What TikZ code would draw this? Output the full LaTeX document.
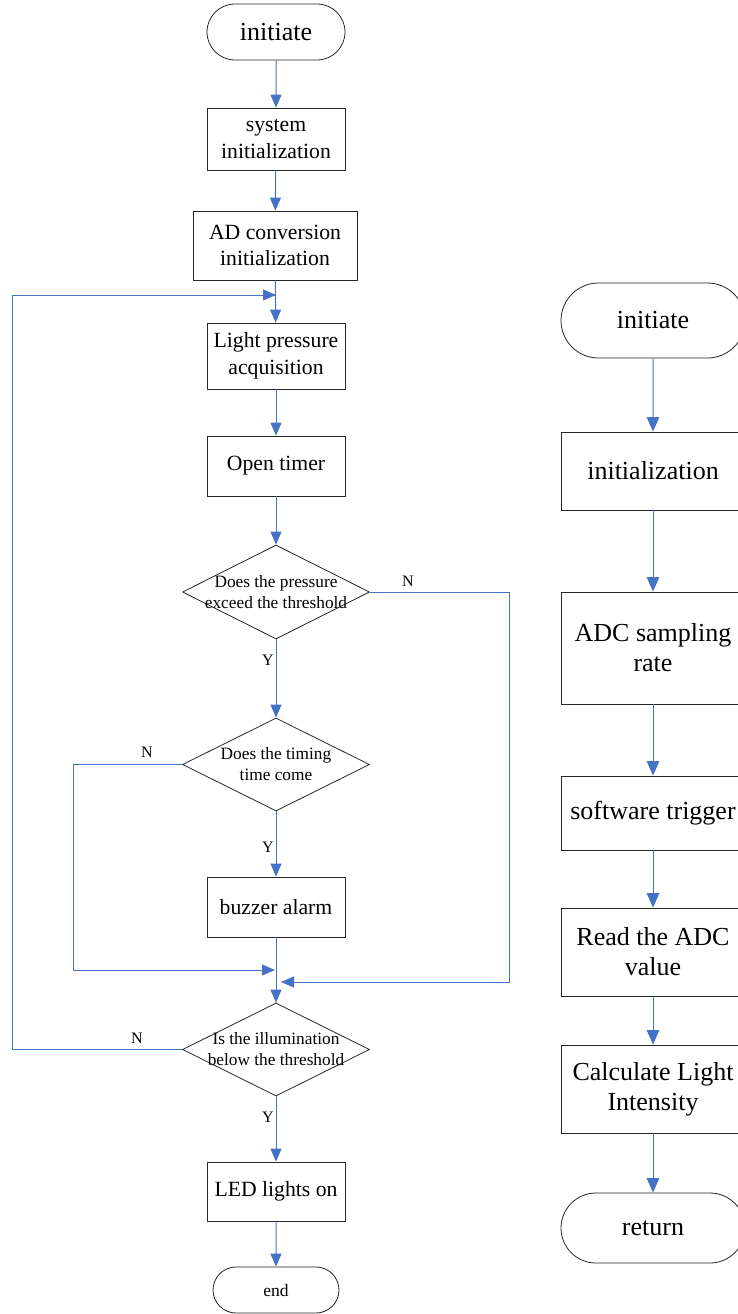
\documentclass[tikz,border=0pt]{standalone}
\usepackage{fontspec}
\setmainfont{Liberation Serif}
\usetikzlibrary{arrows.meta,shapes.misc,shapes.geometric}
\definecolor{flowblue}{HTML}{4472C4}
\tikzset{
  boxL/.style={draw=black!85,line width=0.8pt,rectangle,inner sep=0pt,align=center,
    font=\fontsize{21.7}{26.5}\selectfont},
  boxR/.style={draw=black!85,line width=0.8pt,rectangle,inner sep=0pt,align=center,
    font=\fontsize{26}{30}\selectfont,minimum width=184pt},
  termbox/.style={draw=black!85,line width=0.8pt,rounded rectangle,inner sep=0pt,align=center},
  decision/.style={draw=black!85,line width=0.8pt,diamond,inner sep=0pt,aspect=2},
  dtext/.style={align=center,inner sep=0pt,font=\fontsize{17.3}{21}\selectfont},
  yn/.style={inner sep=0pt,font=\fontsize{16}{18}\selectfont},
  arr/.style={draw=flowblue,line width=1pt,-{Triangle[width=11pt,length=13pt]}},
  arrR/.style={draw=flowblue,line width=1pt,-{Triangle[width=12.5pt,length=14.5pt]}},
}
\begin{document}
\begin{tikzpicture}[x=1pt,y=-1pt]
\useasboundingbox (0,0) rectangle (737,1314);
% left column
\node[termbox,minimum width=138pt,minimum height=56pt,font=\fontsize{26}{30}\selectfont] (init) at (276,32) {initiate};
\node[boxL,minimum width=138pt,minimum height=62pt] (sysinit) at (276,139) {system\\initialization};
\node[boxL,minimum width=164pt,minimum height=69pt] (adinit) at (275,245.5) {AD conversion\\initialization};
\node[boxL,minimum width=138pt,minimum height=66pt] (lpa) at (276,356) {Light pressure\\acquisition};
\node[boxL,minimum width=138pt,minimum height=60pt] (timer) at (276,466) {Open timer};
\node[decision,minimum width=187pt,minimum height=94pt] (d1) at (276,592) {};
\node[dtext] (d1t) at (d1.center) {Does the pressure\\exceed the threshold};
\node[decision,minimum width=187pt,minimum height=93pt] (d2) at (276,764.5) {};
\node[dtext] (d2t) at (d2.center) {Does the timing\\time come};
\node[boxL,minimum width=138pt,minimum height=60pt] (buzz) at (276,907) {buzzer alarm};
\node[decision,minimum width=187pt,minimum height=93pt] (d3) at (276,1049.5) {};
\node[dtext] (d3t) at (d3.center) {Is the illumination\\below the threshold};
\node[boxL,minimum width=138pt,minimum height=59pt] (led) at (276,1191.5) {LED lights on};
\node[termbox,minimum width=126pt,minimum height=46pt,font=\fontsize{17.5}{20}\selectfont] (endn) at (276,1290) {end};
% junction points
\coordinate (j1) at (276,295);
\coordinate (j2) at (275,970);
\coordinate (j3) at (281,982);
% labels
\node[yn] (n1) at (408,581) {N};
\node[yn] (y1) at (268,660) {Y};
\node[yn] (n2) at (147,752) {N};
\node[yn] (y2) at (268,847) {Y};
\node[yn] (n3) at (137,1038) {N};
\node[yn] (y3) at (268,1117) {Y};
% left connectors
\draw[arr] (init) -- (sysinit);
\draw[arr] (sysinit) -- (adinit);
\draw[arr] (adinit) -- (lpa);
\draw[arr] (lpa) -- (timer);
\draw[arr] (timer) -- (d1);
\draw[arr] (d1.south) -- (d2.north);
\draw[arr] (d2.south) -- (buzz);
\draw[arr] (buzz) -- (d3.north);
\draw[arr] (d3.south) -- (led);
\draw[arr] (led) -- (endn);
\draw[arr] (d1.east) -- ++(140,0) |- (j3);
\draw[arr] (d2.west) -- ++(-109,0) |- (j2);
\draw[arr] (d3.west) -- ++(-169.5,0) |- (j1);
% right column
\node[termbox,minimum width=184pt,minimum height=75pt,font=\fontsize{26}{30}\selectfont] (rinit) at (653,320.5) {initiate};
\node[boxR,minimum height=78pt] (rini) at (653,471) {initialization};
\node[boxR,minimum height=112pt] (adc) at (653,648) {ADC sampling\\rate};
\node[boxR,minimum height=74pt] (sw) at (653,813) {software trigger};
\node[boxR,minimum height=88pt] (rd) at (653,952) {Read the ADC\\value};
\node[boxR,minimum height=88pt] (calc) at (653,1089) {Calculate Light\\Intensity};
\node[termbox,minimum width=184pt,minimum height=70pt,font=\fontsize{26}{30}\selectfont] (ret) at (653,1228) {return};
\draw[arrR] (rinit) -- (rini);
\draw[arrR] (rini) -- (adc);
\draw[arrR] (adc) -- (sw);
\draw[arrR] (sw) -- (rd);
\draw[arrR] (rd) -- (calc);
\draw[arrR] (calc) -- (ret);
\end{tikzpicture}
\end{document}
